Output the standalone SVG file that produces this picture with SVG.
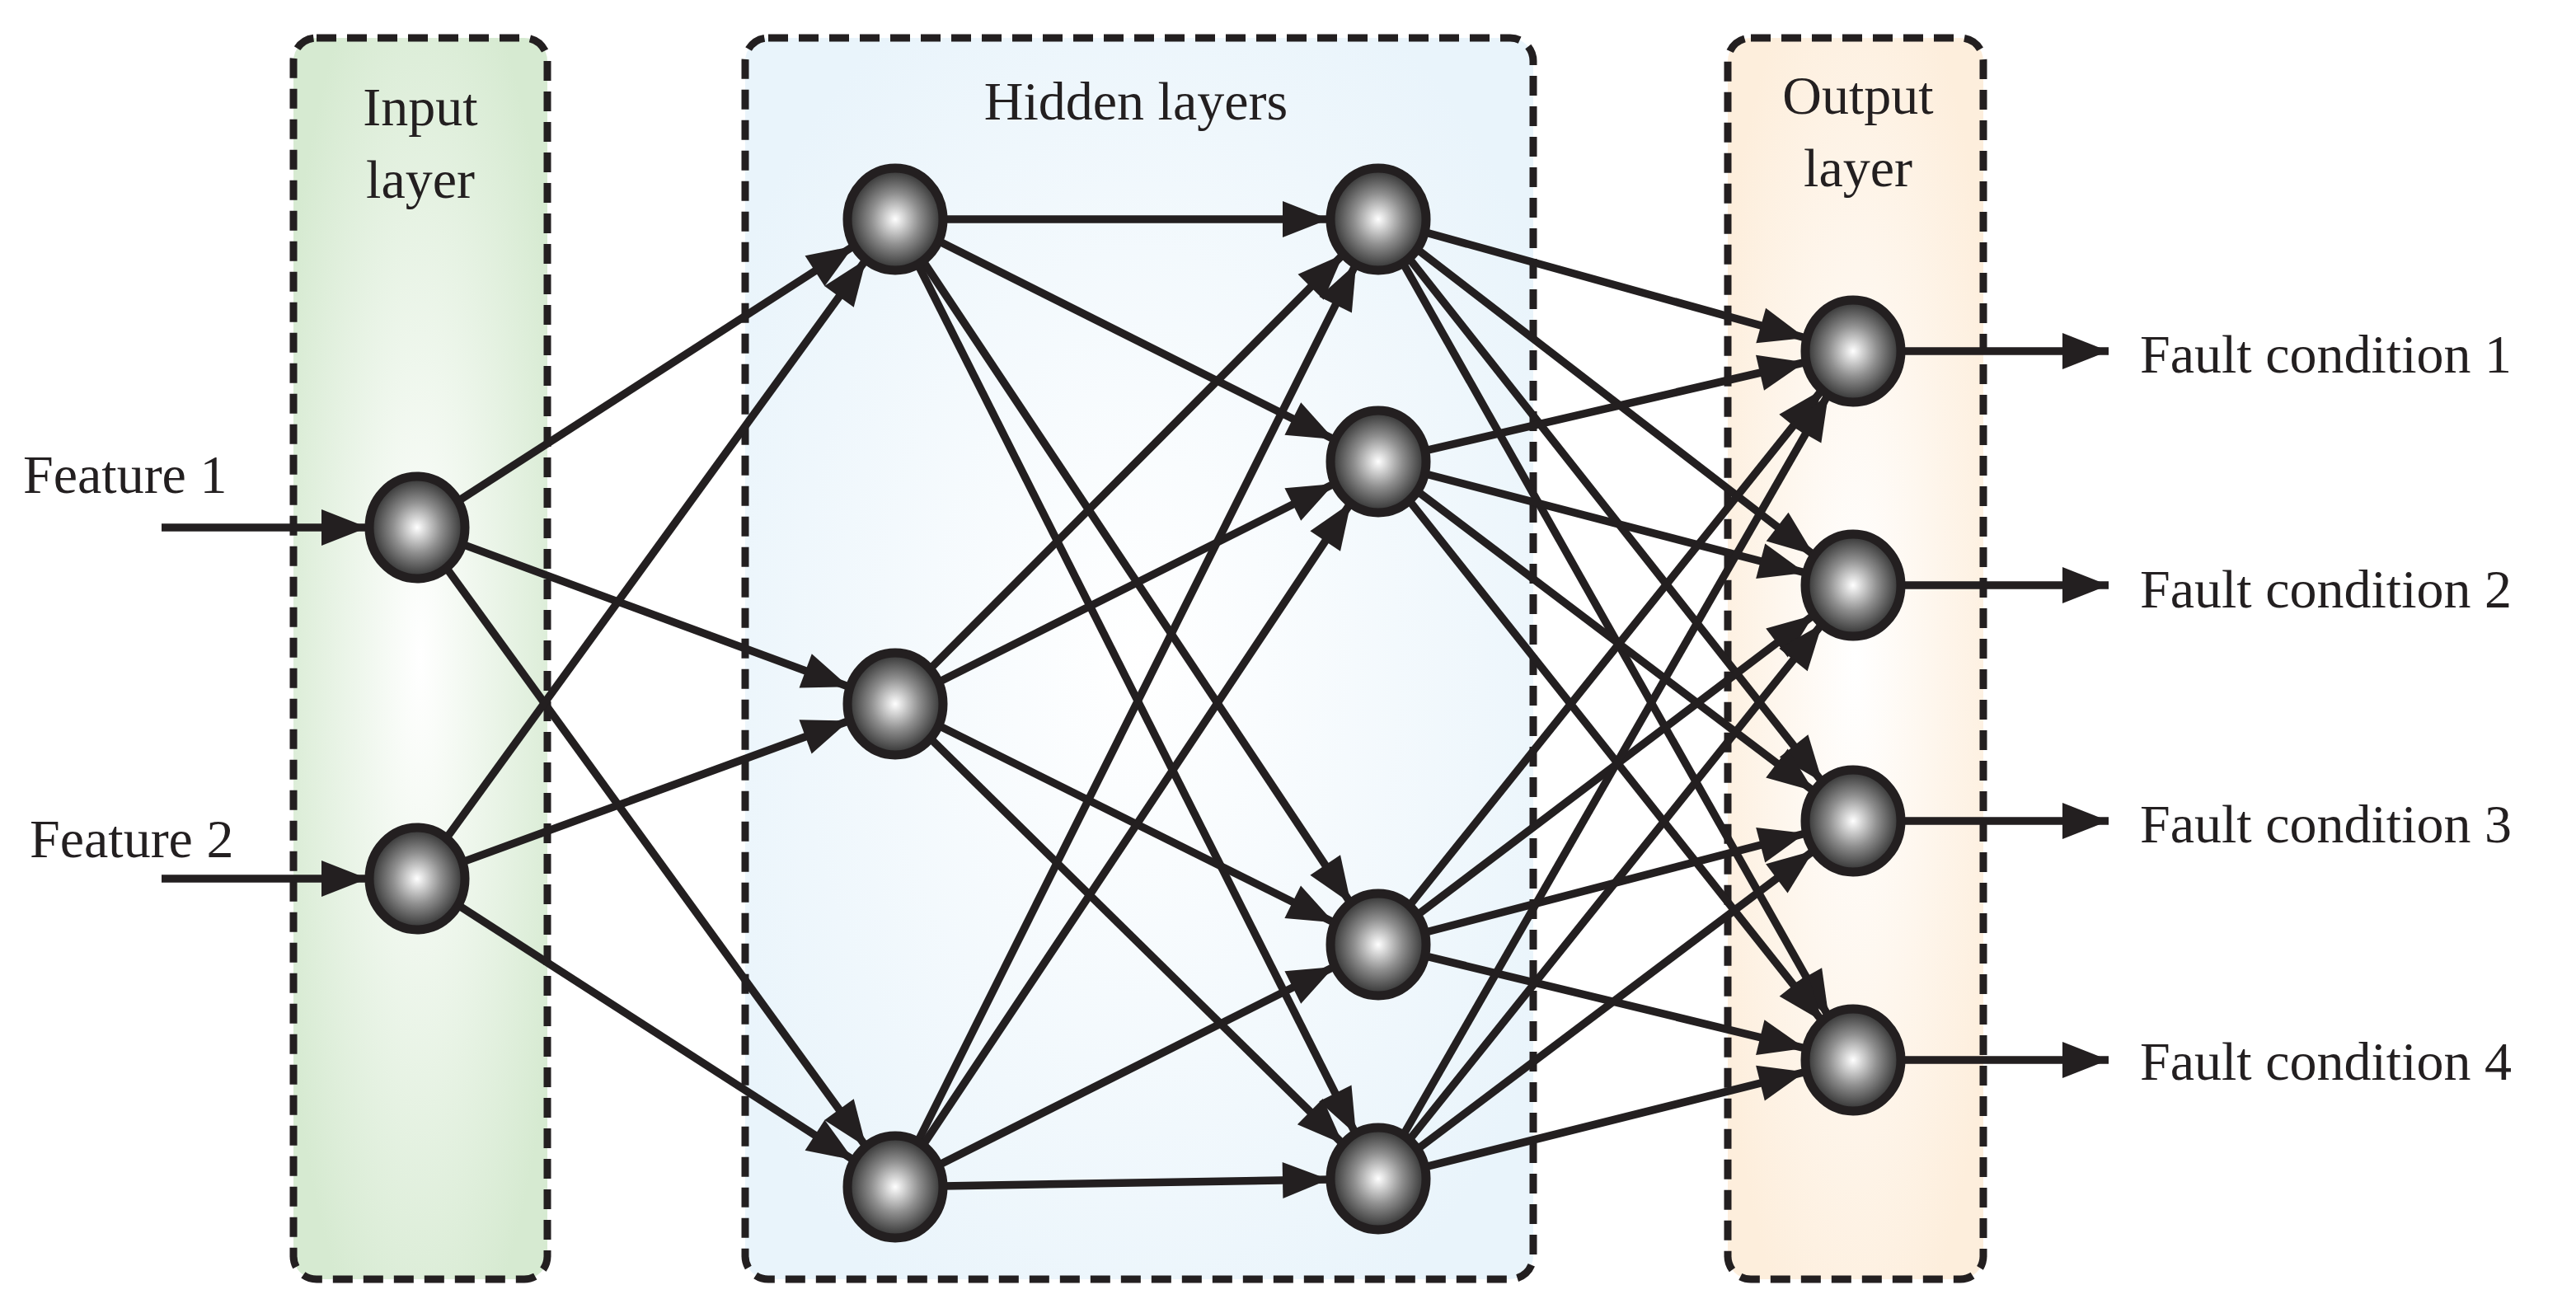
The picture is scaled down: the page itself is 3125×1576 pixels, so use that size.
<svg xmlns="http://www.w3.org/2000/svg" width="3125" height="1576" viewBox="0 0 3125 1576">
<style>
.box{stroke:#231f20;stroke-width:9;stroke-dasharray:24 13;}
.node{fill:url(#ball);stroke:#231f20;stroke-width:11;}
.c line{stroke:#231f20;stroke-width:9.5;}
.t{font-family:"Liberation Serif",serif;font-size:66px;fill:#231f20;}
</style>
<defs>
<radialGradient id="ball" cx="0.5" cy="0.5" r="0.5"><stop offset="0" stop-color="#ffffff"/><stop offset="0.5" stop-color="#8f8f8f"/><stop offset="1" stop-color="#2e2e2e"/></radialGradient>
<radialGradient id="g1" cx="0.5" cy="0.5" r="0.6"><stop offset="0" stop-color="#ffffff"/><stop offset="1" stop-color="#d6ead1"/></radialGradient>
<radialGradient id="g2" cx="0.5" cy="0.5" r="0.6"><stop offset="0" stop-color="#ffffff"/><stop offset="1" stop-color="#e9f4fb"/></radialGradient>
<radialGradient id="g3" cx="0.5" cy="0.5" r="0.6"><stop offset="0" stop-color="#ffffff"/><stop offset="1" stop-color="#fdeedc"/></radialGradient>
<marker id="a" markerUnits="userSpaceOnUse" markerWidth="130" markerHeight="50" refX="116" refY="22" orient="auto" overflow="visible"><path d="M0,0 L56,22 L0,44 z" fill="#231f20"/></marker>
<marker id="o" markerUnits="userSpaceOnUse" markerWidth="60" markerHeight="50" refX="56" refY="22" orient="auto" overflow="visible"><path d="M0,0 L56,22 L0,44 z" fill="#231f20"/></marker>
</defs>
<rect width="3125" height="1576" fill="#fff"/>
<g id="boxes">
<rect class="box" x="356" y="46" width="308" height="1506" rx="28" fill="url(#g1)"/>
<rect class="box" x="904" y="46" width="956" height="1506" rx="28" fill="url(#g2)"/>
<rect class="box" x="2096" y="46" width="310" height="1506" rx="28" fill="url(#g3)"/>
</g>
<g id="labels">
<text class="t" x="510" y="152" text-anchor="middle">Input</text>
<text class="t" x="510" y="240" text-anchor="middle">layer</text>
<text class="t" x="1378" y="145" text-anchor="middle">Hidden layers</text>
<text class="t" x="2254" y="138" text-anchor="middle">Output</text>
<text class="t" x="2254" y="226" text-anchor="middle">layer</text>
<text class="t" x="28" y="598">Feature 1</text>
<text class="t" x="36" y="1040">Feature 2</text>
<text class="t" x="2596" y="452">Fault condition 1</text>
<text class="t" x="2596" y="737">Fault condition 2</text>
<text class="t" x="2596" y="1022">Fault condition 3</text>
<text class="t" x="2596" y="1310">Fault condition 4</text>
</g>
<g id="connectors" class="c">
<line x1="196" y1="640" x2="506" y2="640" marker-end="url(#a)"/>
<line x1="196" y1="1066" x2="506" y2="1066" marker-end="url(#a)"/>
<line x1="506" y1="640" x2="1086" y2="266" marker-end="url(#a)"/>
<line x1="506" y1="640" x2="1086" y2="854" marker-end="url(#a)"/>
<line x1="506" y1="640" x2="1086" y2="1440" marker-end="url(#a)"/>
<line x1="506" y1="1066" x2="1086" y2="266" marker-end="url(#a)"/>
<line x1="506" y1="1066" x2="1086" y2="854" marker-end="url(#a)"/>
<line x1="506" y1="1066" x2="1086" y2="1440" marker-end="url(#a)"/>
<line x1="1086" y1="266" x2="1672" y2="266" marker-end="url(#a)"/>
<line x1="1086" y1="266" x2="1672" y2="560" marker-end="url(#a)"/>
<line x1="1086" y1="266" x2="1672" y2="1146" marker-end="url(#a)"/>
<line x1="1086" y1="266" x2="1672" y2="1430" marker-end="url(#a)"/>
<line x1="1086" y1="854" x2="1672" y2="266" marker-end="url(#a)"/>
<line x1="1086" y1="854" x2="1672" y2="560" marker-end="url(#a)"/>
<line x1="1086" y1="854" x2="1672" y2="1146" marker-end="url(#a)"/>
<line x1="1086" y1="854" x2="1672" y2="1430" marker-end="url(#a)"/>
<line x1="1086" y1="1440" x2="1672" y2="266" marker-end="url(#a)"/>
<line x1="1086" y1="1440" x2="1672" y2="560" marker-end="url(#a)"/>
<line x1="1086" y1="1440" x2="1672" y2="1146" marker-end="url(#a)"/>
<line x1="1086" y1="1440" x2="1672" y2="1430" marker-end="url(#a)"/>
<line x1="1672" y1="266" x2="2248" y2="426" marker-end="url(#a)"/>
<line x1="1672" y1="266" x2="2248" y2="710" marker-end="url(#a)"/>
<line x1="1672" y1="266" x2="2248" y2="996" marker-end="url(#a)"/>
<line x1="1672" y1="266" x2="2248" y2="1286" marker-end="url(#a)"/>
<line x1="1672" y1="560" x2="2248" y2="426" marker-end="url(#a)"/>
<line x1="1672" y1="560" x2="2248" y2="710" marker-end="url(#a)"/>
<line x1="1672" y1="560" x2="2248" y2="996" marker-end="url(#a)"/>
<line x1="1672" y1="560" x2="2248" y2="1286" marker-end="url(#a)"/>
<line x1="1672" y1="1146" x2="2248" y2="426" marker-end="url(#a)"/>
<line x1="1672" y1="1146" x2="2248" y2="710" marker-end="url(#a)"/>
<line x1="1672" y1="1146" x2="2248" y2="996" marker-end="url(#a)"/>
<line x1="1672" y1="1146" x2="2248" y2="1286" marker-end="url(#a)"/>
<line x1="1672" y1="1430" x2="2248" y2="426" marker-end="url(#a)"/>
<line x1="1672" y1="1430" x2="2248" y2="710" marker-end="url(#a)"/>
<line x1="1672" y1="1430" x2="2248" y2="996" marker-end="url(#a)"/>
<line x1="1672" y1="1430" x2="2248" y2="1286" marker-end="url(#a)"/>
<line x1="2248" y1="426" x2="2558" y2="426" marker-end="url(#o)"/>
<line x1="2248" y1="710" x2="2558" y2="710" marker-end="url(#o)"/>
<line x1="2248" y1="996" x2="2558" y2="996" marker-end="url(#o)"/>
<line x1="2248" y1="1286" x2="2558" y2="1286" marker-end="url(#o)"/>
</g>
<g id="in1"><ellipse class="node" cx="506" cy="640" rx="58" ry="62"/></g>
<g id="in2"><ellipse class="node" cx="506" cy="1066" rx="58" ry="62"/></g>
<g id="h1a"><ellipse class="node" cx="1086" cy="266" rx="58" ry="62"/></g>
<g id="h1b"><ellipse class="node" cx="1086" cy="854" rx="58" ry="62"/></g>
<g id="h1c"><ellipse class="node" cx="1086" cy="1440" rx="58" ry="62"/></g>
<g id="h2a"><ellipse class="node" cx="1672" cy="266" rx="58" ry="62"/></g>
<g id="h2b"><ellipse class="node" cx="1672" cy="560" rx="58" ry="62"/></g>
<g id="h2c"><ellipse class="node" cx="1672" cy="1146" rx="58" ry="62"/></g>
<g id="h2d"><ellipse class="node" cx="1672" cy="1430" rx="58" ry="62"/></g>
<g id="o1"><ellipse class="node" cx="2248" cy="426" rx="58" ry="62"/></g>
<g id="o2"><ellipse class="node" cx="2248" cy="710" rx="58" ry="62"/></g>
<g id="o3"><ellipse class="node" cx="2248" cy="996" rx="58" ry="62"/></g>
<g id="o4"><ellipse class="node" cx="2248" cy="1286" rx="58" ry="62"/></g>
</svg>
